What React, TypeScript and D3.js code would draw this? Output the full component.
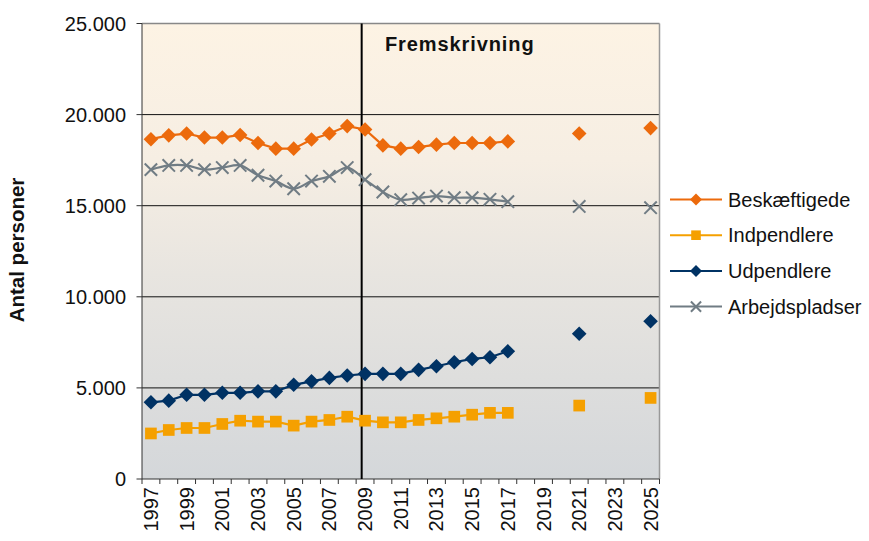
import React from "react";
import * as d3 from "d3";

const axisYears = [
  1997, 1998, 1999, 2000, 2001, 2002, 2003, 2004, 2005, 2006, 2007, 2008, 2009, 2010,
  2011, 2012, 2013, 2014, 2015, 2016, 2017, 2018, 2019, 2020, 2021, 2022, 2023, 2024, 2025,
];
const labelYears = [1997, 1999, 2001, 2003, 2005, 2007, 2009, 2011, 2013, 2015, 2017, 2019, 2021, 2023, 2025];
const dataYears = [
  1997, 1998, 1999, 2000, 2001, 2002, 2003, 2004, 2005, 2006, 2007, 2008, 2009, 2010,
  2011, 2012, 2013, 2014, 2015, 2016, 2017, 2021, 2025,
];
const beskaeftigede = [
  18650, 18860, 18960, 18740, 18740, 18880, 18440, 18130, 18130, 18630, 18960, 19370, 19180, 18310,
  18130, 18220, 18350, 18440, 18440, 18440, 18530, 18960, 19260,
];
const indpendlere = [
  2500, 2690, 2800, 2800, 3020, 3200, 3150, 3150, 2930, 3150, 3240, 3420, 3200, 3110,
  3110, 3240, 3330, 3420, 3530, 3630, 3630, 4030, 4450,
];
const udpendlere = [
  4210, 4300, 4620, 4620, 4730, 4730, 4810, 4810, 5170, 5360, 5550, 5680, 5770, 5770,
  5770, 5990, 6190, 6410, 6590, 6680, 7010, 7970, 8660,
];
const arbejdspladser = [
  16980, 17210, 17210, 16980, 17090, 17210, 16670, 16350, 15930, 16350, 16610, 17090, 16430, 15750,
  15330, 15420, 15530, 15440, 15440, 15350, 15220, 14960, 14890,
];
const yTicks = [0, 5000, 10000, 15000, 20000, 25000];
const seriesNames = ["Beskæftigede", "Indpendlere", "Udpendlere", "Arbejdspladser"];
const projectionLabel = "Fremskrivning";
const yTitle = "Antal personer";

const colors = ["#EC6A0C", "#F5A000", "#003264", "#707C84"];
const markers = ["diamond", "square", "diamond", "x"];
const seriesValues = [beskaeftigede, indpendlere, udpendlere, arbejdspladser];

const FONT = "'Liberation Sans', Arial, sans-serif";

function Marker({ type, x, y, size, color }: { type: string; x: number; y: number; size: number; color: string }) {
  if (type === "diamond") {
    const s = size;
    return <path d={`M${x},${y - s}L${x + s},${y}L${x},${y + s}L${x - s},${y}Z`} fill={color} />;
  }
  if (type === "square") {
    const s = size * 0.8;
    return <rect x={x - s} y={y - s} width={2 * s} height={2 * s} fill={color} />;
  }
  const s = size * 0.85;
  return (
    <path
      d={`M${x - s},${y - s}L${x + s},${y + s}M${x - s},${y + s}L${x + s},${y - s}`}
      stroke={color}
      strokeWidth={2}
      fill="none"
    />
  );
}

export default function App() {
  const W = 869;
  const H = 541;
  const left = 142;
  const right = 659.5;
  const top = 23.5;
  const bottom = 479;

  const x = d3.scaleBand<number>().domain(axisYears).range([left, right]).padding(0);
  const bw = x.bandwidth();
  const cx = (yr: number) => (x(yr) as number) + bw / 2;
  const y = d3.scaleLinear().domain([0, 25000]).range([bottom, top]);
  const fmt = (v: number) => d3.format(",")(v).replace(/,/g, ".");

  const contiguous = dataYears.filter((yr) => yr <= 2017);
  const lineGen = d3
    .line<[number, number]>()
    .x((d) => cx(d[0]))
    .y((d) => y(d[1]));

  const projX = cx(2009) - bw * 0.19;

  return (
    <svg width={W} height={H} style={{ position: "absolute", left: 0, top: 0, background: "#fff" }} fontFamily={FONT}>
      <defs>
        <linearGradient id="bg" x1="0" y1="0" x2="0" y2="1">
          <stop offset="0%" stopColor="#FDF3E4" />
          <stop offset="30%" stopColor="#F6EEE3" />
          <stop offset="55%" stopColor="#E8E5E0" />
          <stop offset="100%" stopColor="#D4D7DA" />
        </linearGradient>
      </defs>
      <rect x={left} y={top} width={right - left} height={bottom - top} fill="url(#bg)" />
      {yTicks
        .filter((t) => t > 0 && t < 25000)
        .map((t) => (
          <line key={t} x1={left} x2={right} y1={y(t)} y2={y(t)} stroke="#111" strokeWidth={1} />
        ))}
      <line x1={left} x2={right} y1={top} y2={top} stroke="#888" strokeWidth={1.5} />
      <line x1={right} x2={right} y1={top} y2={bottom} stroke="#999" strokeWidth={1.5} />
      <line x1={left} x2={right} y1={bottom} y2={bottom} stroke="#333" strokeWidth={1} />
      <line x1={left} x2={left} y1={top} y2={bottom} stroke="#333" strokeWidth={1} />
      {yTicks.map((t) => (
        <g key={t}>
          <line x1={left - 5.5} x2={left} y1={y(t)} y2={y(t)} stroke="#333" />
          <text x={126} y={y(t)} dy="0.35em" textAnchor="end" fontSize={20} fill="#111">
            {fmt(t)}
          </text>
        </g>
      ))}
      {axisYears.concat([2026]).map((yr, i) => {
        const xx = i < axisYears.length ? (x(yr) as number) : right;
        return <line key={yr} x1={xx} x2={xx} y1={bottom} y2={bottom + 5} stroke="#333" />;
      })}
      {labelYears.map((yr) => (
        <text
          key={yr}
          transform={`translate(${cx(yr)},${bottom + 8}) rotate(-90)`}
          textAnchor="end"
          dy="0.35em"
          fontSize={20}
          fill="#111"
        >
          {yr}
        </text>
      ))}
      <text
        transform={`translate(24,250) rotate(-90)`}
        textAnchor="middle"
        fontSize={20.5}
        fontWeight="bold"
        fill="#111"
      >
        {yTitle}
      </text>
      <line x1={projX} x2={projX} y1={top} y2={bottom} stroke="#000" strokeWidth={2} />
      <text x={385} y={51} fontSize={20} fontWeight="bold" fill="#111" letterSpacing={0.9}>
        {projectionLabel}
      </text>
      {seriesValues.map((vals, si) => {
        const pts: [number, number][] = dataYears.map((yr, i) => [yr, vals[i]]);
        const linePts = pts.filter((p) => contiguous.includes(p[0]));
        const gen = si === 3 ? lineGen.curve(d3.curveCatmullRom.alpha(0.5)) : lineGen.curve(d3.curveLinear);
        return (
          <g key={si}>
            <path d={gen(linePts) as string} fill="none" stroke={colors[si]} strokeWidth={2.2} />
            {pts.map((p, i) => (
              <Marker key={i} type={markers[si]} x={cx(p[0])} y={y(p[1])} size={7.3} color={colors[si]} />
            ))}
          </g>
        );
      })}
      {seriesNames.map((name, i) => {
        const ly = 199.5 + i * 35.7;
        return (
          <g key={name}>
            <line x1={670} x2={722} y1={ly} y2={ly} stroke={colors[i]} strokeWidth={2} />
            <Marker type={markers[i]} x={696} y={ly} size={6} color={colors[i]} />
            <text x={728} y={ly} dy="0.35em" fontSize={20} fill="#111">
              {name}
            </text>
          </g>
        );
      })}
    </svg>
  );
}
